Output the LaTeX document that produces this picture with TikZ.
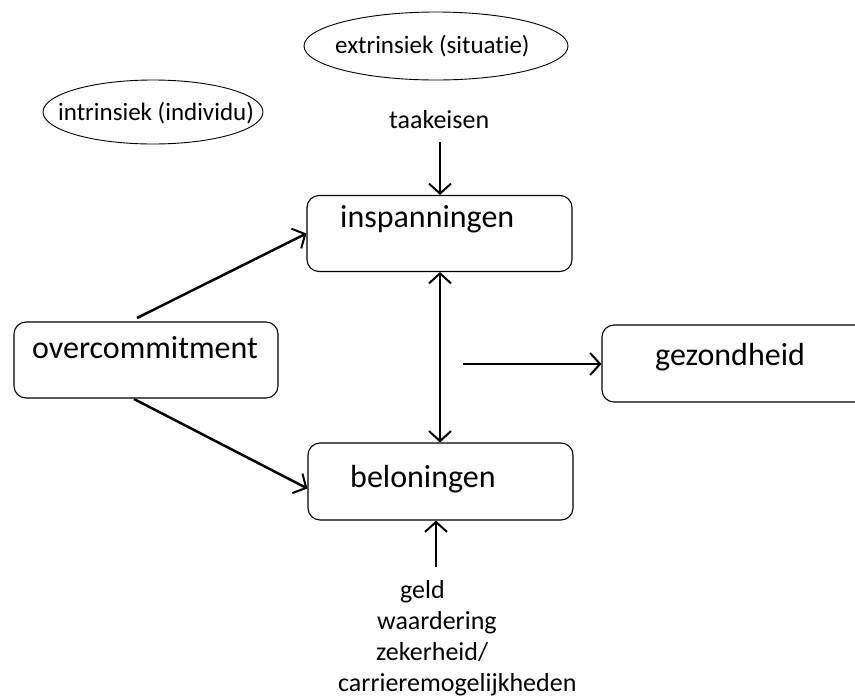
\documentclass[tikz,border=0pt]{standalone}
\usepackage{fontspec}
\setmainfont[Ligatures={NoCommon}]{Carlito}
\usetikzlibrary{arrows.meta,shapes.geometric}
\begin{document}
\begin{tikzpicture}[x=1pt,y=-1pt,
  box/.style={draw,rounded corners=12pt,line width=1.1pt,inner sep=0pt},
  oval/.style={draw,ellipse,line width=0.9pt,inner sep=0pt},
  lbl/.style={font=\fontsize{32}{36}\selectfont,inner sep=0pt,anchor=base west},
  small/.style={font=\fontsize{26}{30}\selectfont,inner sep=0pt,anchor=base west},
  tiny/.style={font=\fontsize{25}{28}\selectfont,inner sep=0pt,anchor=base west},
  arr/.style={line width=2.5pt,-{Straight Barb[length=10pt,width=22pt,line width=2pt]}},
  darr/.style={line width=2.5pt,{Straight Barb[length=10pt,width=22pt,line width=2pt]}-{Straight Barb[length=10pt,width=22pt,line width=2pt]}},
]
\useasboundingbox (0,0) rectangle (855,697);
\clip (0,0) rectangle (855,697);
% ellipses
\node[oval,minimum width=264pt,minimum height=68pt] (ext) at (436,46) {};
\node[tiny] (extt) at (335,53) {extrinsiek (situatie)};
\node[oval,minimum width=220pt,minimum height=64pt] (int) at (153,112) {};
\node[tiny] (intt) at (58,120) {intrinsiek (individu)};
% boxes
\node[box,minimum width=265pt,minimum height=76pt] (insp) at (439.5,233.5) {};
\node[lbl] (inspt) at (340,227) {inspanningen};
\node[box,minimum width=264pt,minimum height=76pt] (oc) at (146,360) {};
\node[lbl] (oct) at (32,358) {overcommitment};
\node[box,minimum width=290pt,minimum height=77pt] (gez) at (747,363.5) {};
\node[lbl] (gezt) at (655,365) {gezondheid};
\node[box,minimum width=265pt,minimum height=77pt] (bel) at (440.5,481.5) {};
\node[lbl] (belt) at (350,487) {beloningen};
% texts
\node[small] (taak) at (389,128) {taakeisen};
\node[small] (t1) at (400,598) {geld};
\node[small] (t2) at (377,629) {waardering};
\node[small] (t3) at (376,660) {zekerheid/};
\node[small] (t4) at (338,691) {carrieremogelijkheden};
% connector endpoints
\coordinate (taakend) at (440,142);
\coordinate (ocup) at (137,318);
\coordinate (ocdown) at (134,399);
\coordinate (mid) at (463,364);
\coordinate (belstart) at (436,567);
% arrows
\draw[arr] (taakend) -- (insp.north -| taakend);
\draw[arr] (ocup) -- (insp.west);
\draw[arr] (ocdown) -- ([yshift=-7pt]bel.west);
\draw[darr] (insp.south -| taakend) -- (bel.north -| taakend);
\draw[arr] (mid) -- (gez.west |- mid);
\draw[arr] (belstart) -- (bel.south -| belstart);
\end{tikzpicture}
\end{document}
